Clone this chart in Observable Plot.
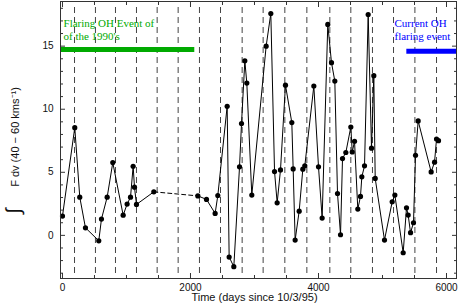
<!DOCTYPE html>
<html><head><meta charset="utf-8">
<script src="https://cdn.jsdelivr.net/npm/d3@7"></script>
<script src="https://cdn.jsdelivr.net/npm/@observablehq/plot@0.6"></script>
<style>html,body{margin:0;padding:0;background:#fff}svg{display:block}</style>
</head><body><div id="chart"></div>
<script>
// Observation days (since 10/3/95) and integrated flux (40–60 km/s)
const days = [0,192,270,359,567,609,698,786,948,1010,1063,1104,1125,1156,1427,
  2115,2250,2385,2427,2573,2604,2677,2766,2797,2849,2880,2958,3182,3255,3313,3354,3406,
  3484,3583,3604,3635,3698,3755,3786,3927,4000,4057,4145,4203,4255,4297,4344,4375,4427,
  4505,4527,4563,4614,4656,4677,4719,4776,4828,4864,4886,5031,5151,5193,5323,5375,5401,
  5438,5484,5516,5557,5760,5813,5844,5875];
const flux = [1.53,8.54,3.03,0.6,-0.43,1.29,3.03,5.77,1.6,2.48,3.03,5.48,3.82,2.45,3.45,
  3.13,2.85,1.74,3.16,10.23,-1.72,-2.48,5.43,8.86,13.84,12.07,3.19,15.0,17.59,5.06,2.58,5.19,
  11.91,8.94,5.27,-0.37,1.92,5.25,5.51,11.84,5.43,1.37,16.72,13.69,12.23,3.32,0.05,6.09,6.57,
  8.59,6.61,7.46,2.08,3.09,4.64,5.51,17.51,6.91,12.66,4.51,-0.37,2.66,3.19,-1.38,2.18,1.61,
  0.21,1.0,6.35,9.07,5.03,5.8,7.64,7.51];
// Unobserved interval bridged by a dashed segment
const gapDays = [1427, 2115];
// Periodic peak epochs (dashed verticals)
const peakDays = [188,515,828,1156,1479,1807,2140,2469,2807,3135,3474,3818,4177,4505,4843,5172,5506,5844];
// Flaring events
const eventLabels = ["Flaring OH Event of\nof the 1990's", "Current OH\nflaring event"];
const eventStart = [-31, 5380];
const eventEnd = [2067, 6156];
const eventLevel = [14.74, 14.6];
const eventLabelX = [16, 5187];
const eventLabelY = [15.45, 15.5];
// Axis ticks
const xMajor = [0, 2000, 4000, 6000];
const xMinor = [500,1000,1500,2500,3000,3500,4500,5000,5500];
const yMajor = [0, 5, 10, 15];
const yMinor = [-3,-2,-1,1,2,3,4,6,7,8,9,11,12,13,14,16,17,18];

const xDomain = [-31, 6156];
const yDomain = [-3.42, 18.54];
const eventColors = ["#00aa00", "#0000ff"];

const pts = days.map((d, i) => ({day: d, flux: flux[i], seg: d <= gapDays[0] ? 1 : 2}));
const gapPts = pts.filter(p => gapDays.includes(p.day));
const events = eventLabels.map((l, i) => ({label: l, start: eventStart[i], end: eventEnd[i],
  level: eventLevel[i], lx: eventLabelX[i], ly: eventLabelY[i], color: eventColors[i]}));

const tickStroke = "#333";
const chart = Plot.plot({
  width: 458, height: 305,
  marginTop: 1, marginBottom: 27, marginLeft: 60, marginRight: 2,
  style: {fontFamily: "'Liberation Sans', Arial, sans-serif", fontSize: "10px", color: "#111", background: "#fff"},
  x: {domain: xDomain},
  y: {domain: yDomain},
  marks: [
    Plot.ruleX(peakDays, {x: d => d, stroke: "#444", strokeDasharray: "6,4", insetTop: 6, insetBottom: 4}),
    Plot.ruleY(events, {y: "level", x1: "start", x2: "end", stroke: "color", strokeWidth: 5}),
    Plot.text(events, {x: "lx", y: "ly", text: "label", fill: "color", textAnchor: "start", lineAnchor: "bottom",
      lineHeight: 1.2, fontSize: 11, fontFamily: "'Liberation Serif', 'Times New Roman', serif"}),
    Plot.line(pts, {x: "day", y: "flux", z: "seg", stroke: "black", strokeWidth: 1}),
    Plot.line(gapPts, {x: "day", y: "flux", stroke: "black", strokeWidth: 1, strokeDasharray: "4,3"}),
    Plot.dot(pts, {x: "day", y: "flux", r: 2.6, fill: "black"}),
    Plot.frame({stroke: tickStroke}),
    // inward ticks on all four sides
    Plot.axisX(xMajor, {anchor: "bottom", tickSize: -5, fill: "none", stroke: tickStroke}),
    Plot.axisX(xMinor, {anchor: "bottom", tickSize: -3, fill: "none", stroke: tickStroke}),
    Plot.axisX(xMajor, {anchor: "top", tickSize: -5, fill: "none", stroke: tickStroke}),
    Plot.axisX(xMinor, {anchor: "top", tickSize: -3, fill: "none", stroke: tickStroke}),
    Plot.axisY(yMajor, {anchor: "left", tickSize: -5, fill: "none", stroke: tickStroke}),
    Plot.axisY(yMinor, {anchor: "left", tickSize: -3, fill: "none", stroke: tickStroke}),
    Plot.axisY(yMajor, {anchor: "right", tickSize: -5, fill: "none", stroke: tickStroke}),
    Plot.axisY(yMinor, {anchor: "right", tickSize: -3, fill: "none", stroke: tickStroke}),
    // tick labels
    Plot.axisX(xMajor, {anchor: "bottom", tickSize: 0, tickPadding: 5, tickFormat: d => String(d), fontSize: 10, label: null}),
    Plot.axisY(yMajor, {anchor: "left", tickSize: 0, tickPadding: 7, tickFormat: d => String(d), fontSize: 10, label: null}),
    // axis titles
    Plot.text(["Time (days since 10/3/95)"], {frameAnchor: "bottom", text: d => d, lineAnchor: "bottom", dy: 22, dx: -4, fontSize: 11}),
    Plot.text(["F dv (40 \u2212 60 kms\u207B\u00B9)"], {frameAnchor: "left", text: d => d, rotate: -90, textAnchor: "middle", dx: -45, dy: -3, fontSize: 11}),
    Plot.text(["\u222B"], {frameAnchor: "left", text: d => d, rotate: -90, textAnchor: "middle", dx: -47, dy: 71, fontSize: 20})
  ]
});
document.getElementById("chart").appendChild(chart);
</script>
</body></html>
